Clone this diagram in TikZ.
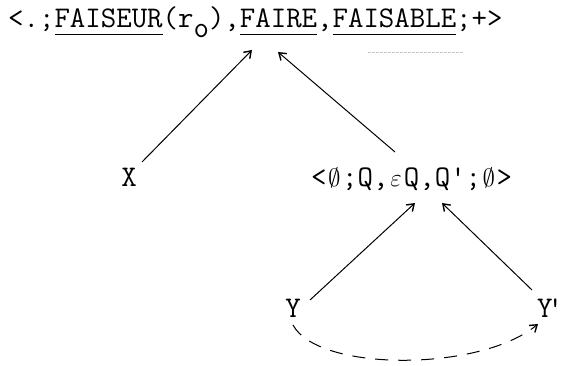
\documentclass[tikz,border=0pt]{standalone}
\usepackage{fontspec}
\newfontfamily\tw{Latin Modern Mono}
\usetikzlibrary{arrows.meta}
\newsavebox\ulbox
\newsavebox\cwbox
\newcommand\ulin[1]{\sbox\ulbox{#1}\rlap{\rule[-7.5pt]{\wd\ulbox}{1.1pt}}\usebox\ulbox}
\newcommand\cell[1]{\sbox\cwbox{M}\makebox[\wd\cwbox][c]{#1}}
\newcommand\es{\cell{$\emptyset$}}
\newcommand\eps{\cell{$\varepsilon$}}
\tikzset{
  lbl/.style={inner sep=0pt, font=\tw\fontsize{30}{34}\selectfont},
  arr/.style={line width=1pt, -{Straight Barb[length=6.5pt,width=9pt,line width=1.4pt]}},
  darr/.style={arr, dash pattern=on 13pt off 10pt},
  faint/.style={gray!45, line width=0.6pt, dash pattern=on 3pt off 1pt}
}
\begin{document}
\begin{tikzpicture}[x=1pt,y=-1pt]
\useasboundingbox (0,0) rectangle (563,366);
\node[lbl, anchor=base west] (top) at (8,28)
  {<.;\ulin{FAISEUR}(r\raisebox{-10pt}{o}),\ulin{FAIRE},\ulin{FAISABLE};+>};
\node[lbl, anchor=base] (X) at (129,187) {X};
\node[lbl, anchor=base west] (mid) at (311,187) {<\es;Q,\eps Q,Q';\es>};
\node[lbl, anchor=base] (Y) at (293,318) {Y};
\node[lbl, anchor=base west] (Yp) at (537,318) {Y\kern-5pt'};
\coordinate (tA) at (252,50);
\coordinate (tB) at (278,52);
\coordinate (mA) at (415,203);
\coordinate (mB) at (442,203);
\coordinate (xs) at (142,162);
\coordinate (ms) at (395,152);
\coordinate (ys) at (310,300);
\coordinate (yps) at (532,290);
\coordinate (ds) at (293,325);
\coordinate (de) at (538,324);
\draw[arr] (xs) -- (tA);
\draw[arr] (ms) -- (tB);
\draw[arr] (ys) -- (mA);
\draw[arr] (yps) -- (mB);
\draw[darr] (ds) .. controls (318,372) and (480,372) .. (de);
\draw[faint] (368,52) -- (463,52);
\end{tikzpicture}
\end{document}
